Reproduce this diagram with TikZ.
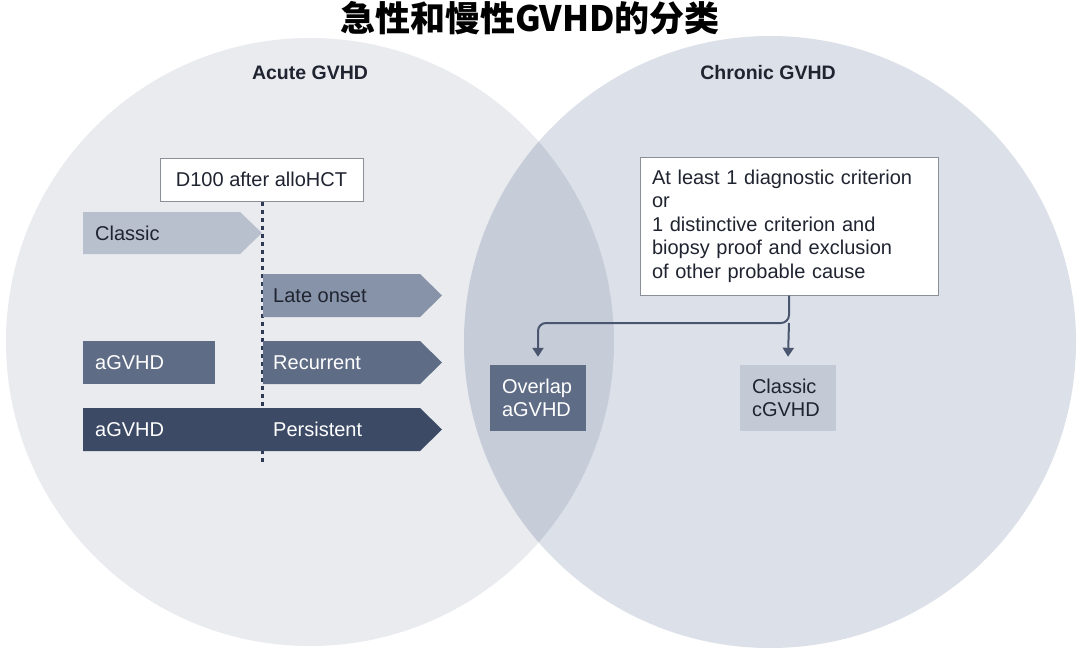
\documentclass[tikz,border=0pt]{standalone}
\usepackage{fontspec}
\setmainfont{Liberation Sans}
\newfontfamily\cjk{Noto Sans CJK SC}
\usetikzlibrary{arrows.meta}
\definecolor{leftc}{HTML}{E9EBEF}
\definecolor{rightc}{HTML}{DCE0E8}
\definecolor{lensc}{HTML}{C6CCD8}
\definecolor{classicc}{HTML}{B8C0CD}
\definecolor{latec}{HTML}{8793A8}
\definecolor{recc}{HTML}{5F6C86}
\definecolor{persc}{HTML}{3C4A66}
\definecolor{overc}{HTML}{5F6C86}
\definecolor{ccc}{HTML}{C3C9D5}
\definecolor{txtc}{HTML}{1F2430}
\definecolor{linec}{HTML}{2E3A55}
\definecolor{conc}{HTML}{4A5670}
\definecolor{borderc}{HTML}{8A8F99}
\tikzset{
  lbl/.style={font=\fontsize{20}{24}\selectfont, inner sep=0pt, anchor=west},
  wbox/.style={draw=borderc, line width=1pt, fill=white, font=\fontsize{20}{23.5}\selectfont},
  head/.style={font=\fontsize{19.5}{22}\selectfont\bfseries, text=txtc},
  sbox/.style={font=\fontsize{20}{23}\selectfont, align=left, text width=72pt, inner xsep=12pt, inner ysep=0pt, minimum height=66pt},
  conn/.style={draw=conc, line width=2pt, -{Triangle[length=9pt,width=11pt]}},
}
\begin{document}
\begin{tikzpicture}[x=1pt,y=-1pt]
\useasboundingbox (0,0) rectangle (1080,656);
\fill[white] (0,0) rectangle (1080,656);
% circles
\fill[leftc] (310,342) circle[radius=304];
\fill[rightc] (770,342) circle[radius=306];
\begin{scope}
\clip (310,342) circle[radius=304];
\fill[lensc] (770,342) circle[radius=306];
\end{scope}
% title
\node[font=\cjk\bfseries\fontsize{35}{40}\selectfont, text=black] (title) at (530,18) {急性和慢性GVHD的分类};
\node[head] (acute) at (310,73) {Acute GVHD};
\node[head] (chronic) at (768,73) {Chronic GVHD};
% D100 box
\node[wbox, minimum width=203pt, minimum height=43pt, inner sep=0pt, text=txtc] (d100) at (261.5,179.5) {D100 after alloHCT};
% dashed line
\coordinate (dend) at (262,462);
\draw[linec, line width=3pt, dash pattern=on 4.5pt off 3.5pt] (d100.south -| dend) -- (dend);
% arrow shapes
\fill[classicc] (83,212) -- (240,212) -- (262,233) -- (240,254) -- (83,254) -- cycle;
\node[lbl, text=txtc] (classic) at (95,233) {Classic};
\fill[latec] (263,274) -- (420,274) -- (442,295.5) -- (420,317) -- (263,317) -- cycle;
\node[lbl, text=txtc] (late) at (273,295.5) {Late onset};
\fill[recc] (83,341) rectangle (215,384);
\node[lbl, text=white] (ag1) at (95,362.5) {aGVHD};
\fill[recc] (263,341) -- (420,341) -- (442,362.5) -- (420,384) -- (263,384) -- cycle;
\node[lbl, text=white] (rec) at (273,362.5) {Recurrent};
\fill[persc] (83,408) -- (420,408) -- (442,429.5) -- (420,451) -- (83,451) -- cycle;
\node[lbl, text=white] (ag2) at (95,429.5) {aGVHD};
\node[lbl, text=white] (pers) at (273,429.5) {Persistent};
% criterion box
\node[wbox, align=left, text width=274pt, inner xsep=12pt, minimum height=138pt, text=txtc] (crit) at (789,226) {At least 1 diagnostic criterion\\or\\1 distinctive criterion and\\biopsy proof and exclusion\\of other probable cause};
% result boxes
\node[sbox, fill=overc, text=white] (ov) at (538,398) {Overlap\\aGVHD};
\node[sbox, fill=ccc, text=txtc] (cc) at (788,398) {Classic\\cGVHD};
% connectors
\coordinate (j) at (crit.south |- 0,323);
\draw[conn, rounded corners=8pt] (crit.south) -- (j) -| ([yshift=8pt]ov.north);
\draw[conn] (j) -- ([yshift=8pt]cc.north);
\end{tikzpicture}
\end{document}
